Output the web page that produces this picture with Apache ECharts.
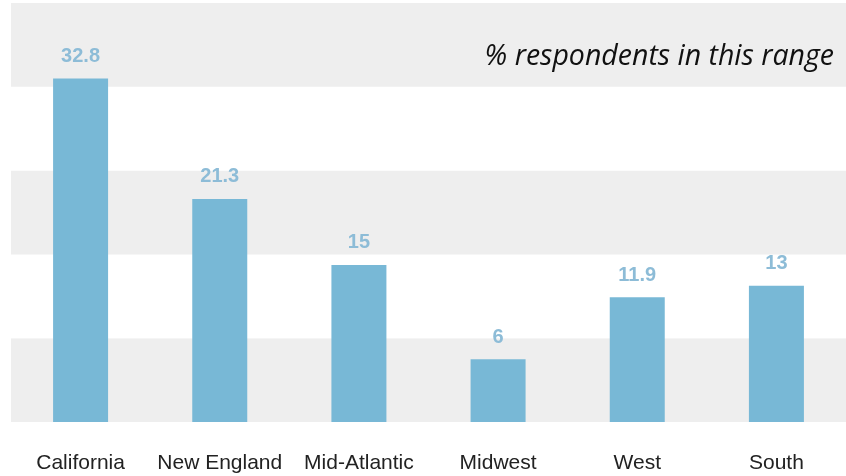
<!DOCTYPE html>
<html>
<head>
<meta charset="utf-8">
<script src="https://cdn.jsdelivr.net/npm/echarts@6/dist/echarts.min.js"></script>
<style>
html,body{margin:0;padding:0;background:#fff;}
#chart{width:846px;height:476px;}
</style>
</head>
<body>
<div id="chart"></div>
<script>
var categories = ["California", "New England", "Mid-Atlantic", "Midwest", "West", "South"];
var values = [32.8, 21.3, 15, 6, 11.9, 13];
var titleText = "% respondents in this range";

var chart = echarts.init(document.getElementById('chart'), null, {renderer: 'canvas'});
chart.setOption({
  animation: false,
  backgroundColor: '#ffffff',
  title: {
    text: titleText,
    right: 7,
    top: 37,
    textStyle: {
      fontFamily: 'Open Sans',
      fontStyle: 'italic',
      fontWeight: 'normal',
      fontSize: 28.5,
      color: '#111111'
    }
  },
  grid: {left: 11, right: 0, top: 3, bottom: 54, containLabel: false},
  xAxis: {
    type: 'category',
    data: categories,
    axisLine: {show: false},
    axisTick: {show: false},
    axisLabel: {
      margin: 31,
      fontFamily: 'Liberation Sans, Arial, sans-serif',
      fontSize: 21,
      color: '#222222',
      interval: 0
    }
  },
  yAxis: {
    type: 'value',
    min: 0,
    max: 40,
    interval: 8,
    axisLine: {show: false},
    axisTick: {show: false},
    axisLabel: {show: false},
    splitLine: {show: false},
    splitArea: {show: true, areaStyle: {color: ['#eeeeee', '#ffffff']}}
  },
  series: [{
    type: 'bar',
    data: values,
    barWidth: 55,
    itemStyle: {color: '#78b8d6'},
    label: {
      show: true,
      position: 'top',
      distance: 12,
      fontFamily: 'Liberation Sans, Arial, sans-serif',
      fontWeight: 'bold',
      fontSize: 20,
      color: '#8dbcd7'
    }
  }]
});
</script>
</body>
</html>
